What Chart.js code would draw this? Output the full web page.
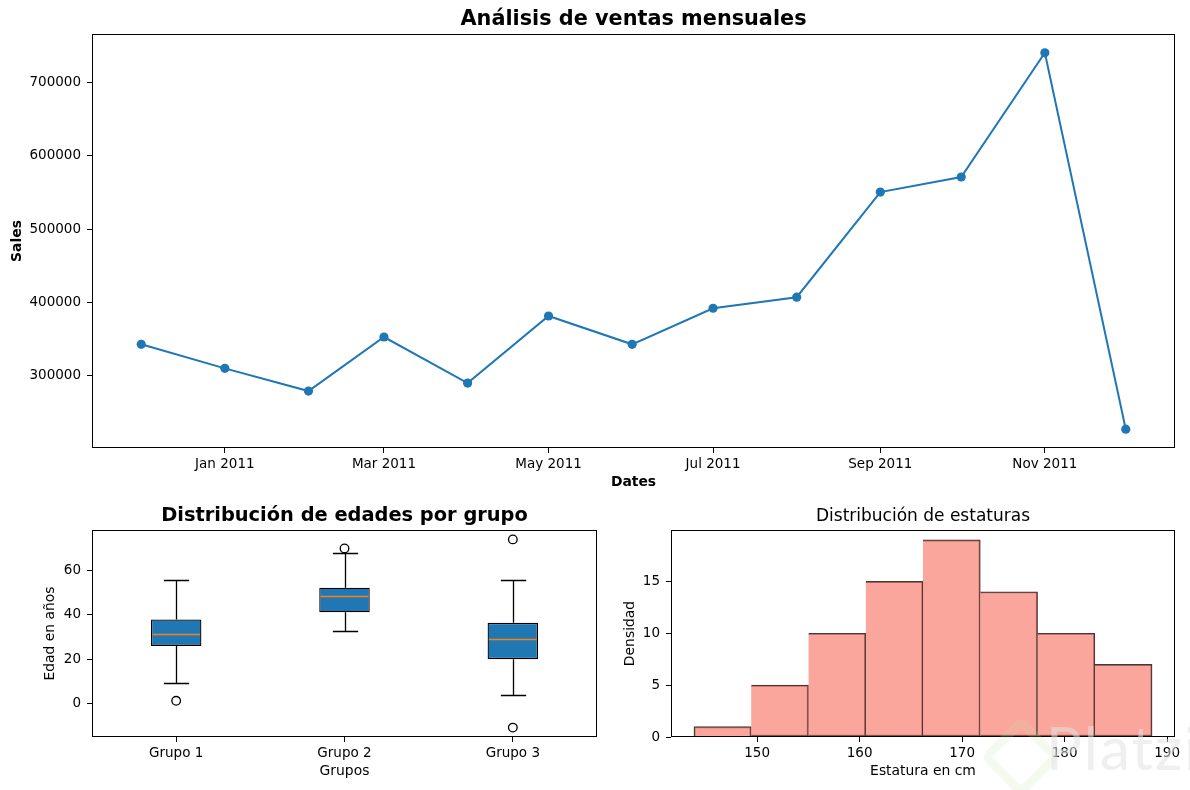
<!DOCTYPE html>
<html>
<head>
<meta charset="utf-8">
<title>Ventas, edades y estaturas</title>
<script src="https://cdn.jsdelivr.net/npm/chart.js@4.4.1/dist/chart.umd.min.js"></script>
<style>
  html, body { margin: 0; padding: 0; background: #fff; }
  #fig { position: relative; width: 1190px; height: 790px; overflow: hidden; }
  canvas { position: absolute; }
  #salesChart { left: 0; top: 0; }
  #ageChart { left: 0; top: 490px; }
  #heightChart { left: 600px; top: 490px; }
  .mark-logo {
    position: absolute; left: 992px; top: 728px; width: 40px; height: 40px;
    border: 9px solid rgba(200, 230, 170, 0.18); border-radius: 9px;
    transform: rotate(45deg); pointer-events: none;
  }
  .mark-text {
    position: absolute; left: 1046px; top: 711px; font-family: Lato, 'Open Sans', sans-serif;
    font-size: 60px; color: rgba(225, 225, 225, 0.55); pointer-events: none; letter-spacing: 2px;
  }
</style>
</head>
<body>
<div id="fig">
  <canvas id="salesChart" width="1190" height="500"></canvas>
  <canvas id="ageChart" width="610" height="300"></canvas>
  <canvas id="heightChart" width="590" height="300"></canvas>
  <div class="mark-logo"></div>
  <div class="mark-text">Platzi</div>
</div>
<script>
// --- datos: ventas mensuales ---
const salesDates = ['2010-12-01', '2011-01-01', '2011-02-01', '2011-03-01', '2011-04-01', '2011-05-01',
  '2011-06-01', '2011-07-01', '2011-08-01', '2011-09-01', '2011-10-01', '2011-11-01', '2011-12-01'];
const salesValues = [342100, 309200, 278100, 352100, 289000, 380900, 342100, 391500, 406600, 550600, 571200, 741300, 225900];
const dateTickDates = ['2011-01-01', '2011-03-01', '2011-05-01', '2011-07-01', '2011-09-01', '2011-11-01'];
const dateTickLabels = ['Jan 2011', 'Mar 2011', 'May 2011', 'Jul 2011', 'Sep 2011', 'Nov 2011'];
const salesTicks = [300000, 400000, 500000, 600000, 700000];

// --- datos: edades por grupo (boxplot) ---
const groupLabels = ['Grupo 1', 'Grupo 2', 'Grupo 3'];
const boxLow = [9.1, 32.7, 3.6];
const boxQ1 = [26.0, 41.2, 20.0];
const boxMedian = [31.2, 48.5, 29.2];
const boxQ3 = [37.9, 52.3, 36.4];
const boxHigh = [55.6, 67.9, 55.9];
const boxOutliers = [[1.2], [70.0], [74.1, -10.9]];
const ageTicks = [0, 20, 40, 60];

// --- datos: estaturas (histograma) ---
const heightEdges = [143.83, 149.42, 155.01, 160.59, 166.18, 171.77, 177.36, 182.94, 188.53];
const heightCounts = [1, 5, 10, 15, 19, 14, 10, 7];
const heightTicks = [150, 160, 170, 180, 190];
const densityTicks = [0, 5, 10, 15];

// --- estilo general ---
Chart.defaults.font.family = "'DejaVu Sans', sans-serif";
Chart.defaults.font.size = 13.5;
Chart.defaults.color = '#000';
Chart.defaults.animation = false;

const MPL_BLUE = '#1f77b4';
const MPL_ORANGE = '#ff7f0e';
const BOX_WIDTH = 0.3;   // en unidades del eje x
const CAP_WIDTH = 0.15;
const LW = 1.3;          // ~1pt de matplotlib

const DAY = 86400000;
const toDay = s => {
  const [y, m, d] = s.split('-').map(Number);
  return Date.UTC(y, m - 1, d) / DAY;
};

// margen del 5% como matplotlib
const withMargin = (lo, hi) => {
  const p = (hi - lo) * 0.05;
  return [lo - p, hi + p];
};

const fixedTicks = values => scale => { scale.ticks = values.map(v => ({ value: v })); };
const axisSize = size => scale => {
  if (scale.isHorizontal()) scale.height = size; else scale.width = size;
};

const axisBase = (ticksArr, size, extra) => Object.assign({
  type: 'linear',
  offset: false,
  afterBuildTicks: fixedTicks(ticksArr),
  afterFit: axisSize(size),
  grid: { drawOnChartArea: false, offset: false, tickLength: 5, color: '#000', tickWidth: 1 },
  border: { display: false }
}, extra);

// marco negro alrededor del área del gráfico
const frame = {
  id: 'frame',
  afterDatasetsDraw(chart) {
    const { ctx, chartArea: a } = chart;
    const l = Math.round(a.left) + 0.5, t = Math.round(a.top) + 0.5;
    const r = Math.round(a.right) - 0.5, b = Math.round(a.bottom) - 0.5;
    ctx.save();
    ctx.strokeStyle = '#000';
    ctx.lineWidth = 1;
    ctx.strokeRect(l, t, r - l, b - t);
    ctx.restore();
  }
};

// --- 1. LÍNEA DE VENTAS ---
const salesX = salesDates.map(toDay);
const [sx0, sx1] = withMargin(salesX[0], salesX[salesX.length - 1]);
const [sy0, sy1] = withMargin(Math.min(...salesValues), Math.max(...salesValues));

new Chart(document.getElementById('salesChart'), {
  type: 'line',
  data: {
    datasets: [{
      data: salesX.map((x, i) => ({ x, y: salesValues[i] })),
      borderColor: MPL_BLUE,
      backgroundColor: MPL_BLUE,
      borderWidth: 2,
      pointRadius: 4.6,
      pointBorderWidth: 0,
      pointBackgroundColor: MPL_BLUE,
      tension: 0
    }]
  },
  options: {
    responsive: false,
    layout: { padding: { left: 0, right: 15, top: 0, bottom: 0 } },
    plugins: {
      legend: { display: false },
      tooltip: { enabled: false },
      title: {
        display: true, fullSize: false, text: 'Análisis de ventas mensuales', color: '#000',
        font: { size: 20.8, weight: 'bold', lineHeight: 1.2 },
        padding: { top: 7, bottom: 2 }
      }
    },
    scales: {
      x: axisBase(dateTickDates.map(toDay), 52, {
        min: sx0, max: sx1,
        ticks: { callback: (v, i) => dateTickLabels[i], maxRotation: 0, autoSkip: false, padding: 3 },
        title: { display: true, text: 'Dates', font: { size: 13.9, weight: 'bold' }, padding: { top: 0, bottom: 9 } }
      }),
      y: axisBase(salesTicks, 92, {
        min: sy0, max: sy1,
        ticks: { callback: v => String(v), padding: 6 },
        title: { display: true, text: 'Sales', font: { size: 13.9, weight: 'bold' }, padding: { top: 9, bottom: 0 } }
      })
    }
  },
  plugins: [frame]
});

// --- 2. BOXPLOT DE EDADES ---
const boxPos = groupLabels.map((_, i) => i + 1);
const allAges = [...boxLow, ...boxHigh, ...boxOutliers.flat()];
const [ay0, ay1] = withMargin(Math.min(...allAges), Math.max(...allAges));

const boxParts = {
  id: 'boxParts',
  beforeDatasetsDraw(chart) {
    const { ctx, scales: { x, y } } = chart;
    ctx.save();
    ctx.strokeStyle = '#000';
    ctx.lineWidth = LW;
    boxPos.forEach((p, i) => {
      const cx = Math.round(x.getPixelForValue(p)) + 0.5;
      const half = x.getPixelForValue(p + CAP_WIDTH / 2) - x.getPixelForValue(p);
      const seg = (lo, hi) => {
        const y0 = y.getPixelForValue(lo), y1 = Math.round(y.getPixelForValue(hi)) + 0.5;
        ctx.beginPath();
        ctx.moveTo(cx, y0); ctx.lineTo(cx, y1);
        ctx.moveTo(cx - half, y1); ctx.lineTo(cx + half, y1);
        ctx.stroke();
      };
      seg(boxQ3[i], boxHigh[i]);
      seg(boxQ1[i], boxLow[i]);
    });
    ctx.restore();
  },
  afterDatasetsDraw(chart) {
    const { ctx, scales: { x, y } } = chart;
    ctx.save();
    ctx.strokeStyle = MPL_ORANGE;
    ctx.lineWidth = 1.5;
    boxPos.forEach((p, i) => {
      const l = x.getPixelForValue(p - BOX_WIDTH / 2) + 1.3;
      const r = x.getPixelForValue(p + BOX_WIDTH / 2) - 1.3;
      const my = Math.round(y.getPixelForValue(boxMedian[i])) + 0.5;
      ctx.beginPath();
      ctx.moveTo(l, my); ctx.lineTo(r, my);
      ctx.stroke();
    });
    ctx.restore();
  }
};

new Chart(document.getElementById('ageChart'), {
  type: 'bar',
  data: {
    datasets: [
      {
        type: 'bar',
        data: boxPos.map((x, i) => ({ x, y: [boxQ1[i], boxQ3[i]] })),
        backgroundColor: MPL_BLUE,
        borderColor: '#000',
        borderWidth: LW,
        borderSkipped: false,
        barPercentage: BOX_WIDTH,
        categoryPercentage: 1
      },
      {
        type: 'scatter',
        data: boxOutliers.flatMap((vals, i) => vals.map(y => ({ x: boxPos[i], y }))),
        pointRadius: 4.3,
        pointBackgroundColor: 'rgba(0,0,0,0)',
        pointBorderColor: '#000',
        pointBorderWidth: LW
      }
    ]
  },
  options: {
    responsive: false,
    layout: { padding: { left: 0, right: 13, top: 0, bottom: 0 } },
    plugins: {
      legend: { display: false },
      tooltip: { enabled: false },
      title: {
        display: true, fullSize: false, text: 'Distribución de edades por grupo', color: '#000',
        font: { size: 19.4, weight: 'bold', lineHeight: 1.2 },
        padding: { top: 14.6, bottom: 2.1 }
      }
    },
    scales: {
      x: axisBase(boxPos, 53, {
        min: 0.5, max: groupLabels.length + 0.5,
        ticks: { callback: (v, i) => groupLabels[i], maxRotation: 0, autoSkip: false, padding: 3 },
        title: { display: true, text: 'Grupos', font: { size: 13.9 }, padding: { top: 0, bottom: 10 } }
      }),
      y: axisBase(ageTicks, 92, {
        min: ay0, max: ay1,
        ticks: { callback: v => String(v), padding: 6 },
        title: { display: true, text: 'Edad en años', font: { size: 13.9 }, padding: { top: 41.7, bottom: 0 } }
      })
    }
  },
  plugins: [boxParts, frame]
});

// --- 3. HISTOGRAMA DE ESTATURAS ---
const binCenters = heightCounts.map((_, i) => (heightEdges[i] + heightEdges[i + 1]) / 2);
const [hx0, hx1] = withMargin(heightEdges[0], heightEdges[heightEdges.length - 1]);
const hy1 = Math.max(...heightCounts) * 1.05;

new Chart(document.getElementById('heightChart'), {
  type: 'bar',
  data: {
    datasets: [{
      data: binCenters.map((x, i) => ({ x, y: heightCounts[i] })),
      backgroundColor: 'rgba(250,128,114,0.7)',
      borderColor: 'rgba(40,20,20,0.85)',
      borderWidth: LW,
      borderSkipped: ctx => ctx.dataIndex === 0 ? 'bottom' : 'left',
      barThickness: 'flex',
      barPercentage: 1,
      categoryPercentage: 1
    }]
  },
  options: {
    responsive: false,
    layout: { padding: { left: 0, right: 15, top: 0, bottom: 0 } },
    plugins: {
      legend: { display: false },
      tooltip: { enabled: false },
      title: {
        display: true, fullSize: false, text: 'Distribución de estaturas', color: '#000',
        font: { size: 17, weight: 'normal', lineHeight: 1.2 },
        padding: { top: 16.1, bottom: 3.5 }
      }
    },
    scales: {
      x: axisBase(heightTicks, 53, {
        min: hx0, max: hx1,
        ticks: { callback: v => String(v), maxRotation: 0, autoSkip: false, padding: 3 },
        title: { display: true, text: 'Estatura en cm', font: { size: 13.9 }, padding: { top: 0, bottom: 10 } }
      }),
      y: axisBase(densityTicks, 71, {
        min: 0, max: hy1,
        ticks: { callback: v => String(v), padding: 6 },
        title: { display: true, text: 'Densidad', font: { size: 13.9 }, padding: { top: 21.7, bottom: 0 } }
      })
    }
  },
  plugins: [frame]
});
</script>
</body>
</html>
